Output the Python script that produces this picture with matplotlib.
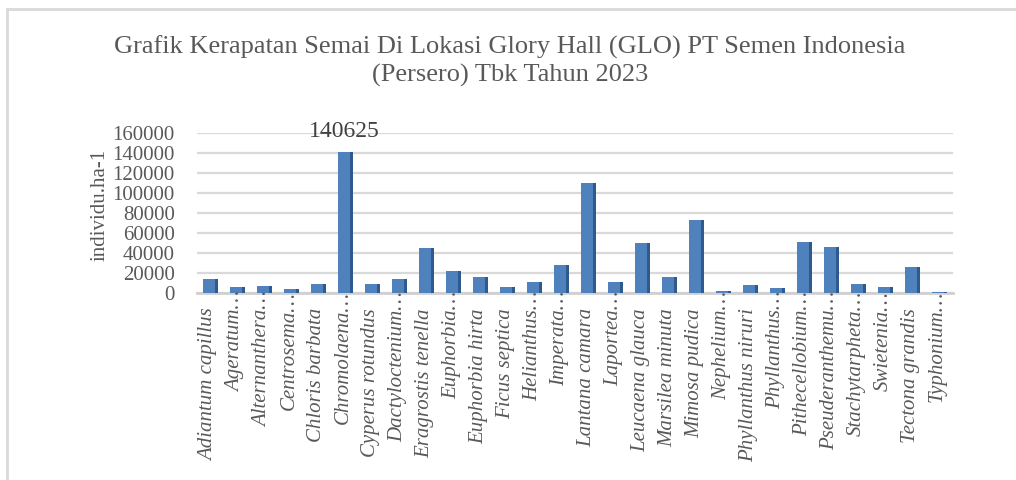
import numpy as np
import matplotlib
matplotlib.use("Agg")
import matplotlib.pyplot as plt
from matplotlib.patches import Rectangle
from matplotlib.transforms import ScaledTranslation

plt.rcParams['font.family'] = ['Liberation Serif', 'DejaVu Serif']

# species (labels as shown, Excel truncated some with an ellipsis)
species = ['Adiantum capillus', 'Ageratum\u2026', 'Alternanthera\u2026', 'Centrosema\u2026',
           'Chloris barbata', 'Chromolaena\u2026', 'Cyperus rotundus', 'Dactyloctenium\u2026',
           'Eragrostis tenella', 'Euphorbia\u2026', 'Euphorbia hirta', 'Ficus septica',
           'Helianthus\u2026', 'Imperata\u2026', 'Lantana camara', 'Laportea\u2026',
           'Leucaena glauca', 'Marsilea minuta', 'Mimosa pudica', 'Nephelium\u2026',
           'Phyllanthus niruri', 'Phyllanthus\u2026', 'Pithecellobium\u2026', 'Pseuderanthemu\u2026',
           'Stachytarpheta\u2026', 'Swietenia\u2026', 'Tectona grandis', 'Typhonium\u2026']

# density (individu.ha-1)
density = [14000, 6000, 7000, 4000, 9000, 140625, 9000, 14000,
           45000, 22000, 16000, 6000, 11000, 28000, 110000, 11000,
           50000, 16000, 73000, 2000, 8000, 5000, 51000, 46000,
           9000, 6000, 26000, 1500]

y_ticks = [0, 20000, 40000, 60000, 80000, 100000, 120000, 140000, 160000]

grey = '#595959'

fig = plt.figure(figsize=(10.16, 4.8), dpi=100)
ax = fig.add_axes([197/1016, (480-293)/480, 756/1016, 160/480])

x = np.arange(len(species))
# front face + darker side face to hint at the 3D columns
ax.bar(x - 0.04, density, width=0.44, color='#4F81BD', zorder=3)
ax.bar(x + 0.22, density, width=0.08, color='#2E5A8E', zorder=3)

ax.set_xlim(-0.5, len(species) - 0.5)
ax.set_ylim(0, 160000)
ax.set_yticks(y_ticks)
ax.set_yticklabels([str(v) for v in y_ticks], fontsize=15, color=grey)
ax.tick_params(axis='y', length=0, pad=16)
ax.set_xticks([])
ax.grid(axis='y', color='#D9D9D9', lw=1.6, zorder=0)
for s in ['top', 'right', 'left']:
    ax.spines[s].set_visible(False)
ax.spines['bottom'].set_color('#D0D0D0')
ax.spines['bottom'].set_linewidth(2)

# rotated category labels, ellipsis ones sit a bit higher
for i, name in enumerate(species):
    dy = 2 if name.endswith('\u2026') else -15
    tr = ax.get_xaxis_transform() + ScaledTranslation(0, dy/100, fig.dpi_scale_trans)
    ax.text(i - 0.08, 0, name, transform=tr, rotation=90, ha='center', va='top',
            fontsize=15, style='italic', color=grey)

# data label on the tallest column
imax = int(np.argmax(density))
ax.annotate(str(density[imax]), xy=(imax, density[imax]), xytext=(-1, 15),
            textcoords='offset points', ha='center', va='center',
            fontsize=17, color='#404040')

fig.text(100/1016, 1 - 205/480, 'individu.ha-1', rotation=90, ha='center', va='center',
         fontsize=15, color=grey)
fig.text(510/1016, 1 - 61/480,
         'Grafik Kerapatan Semai Di Lokasi Glory Hall (GLO) PT Semen Indonesia\n(Persero) Tbk Tahun 2023',
         ha='center', va='center', fontsize=19, color=grey, linespacing=1.3)

fig.patches.append(Rectangle((7/1016, -0.1), 1.1, (480-9)/480 + 0.1, transform=fig.transFigure,
                             fill=False, edgecolor='#D9D9D9', lw=2))

fig.savefig('out.png', dpi=100)
